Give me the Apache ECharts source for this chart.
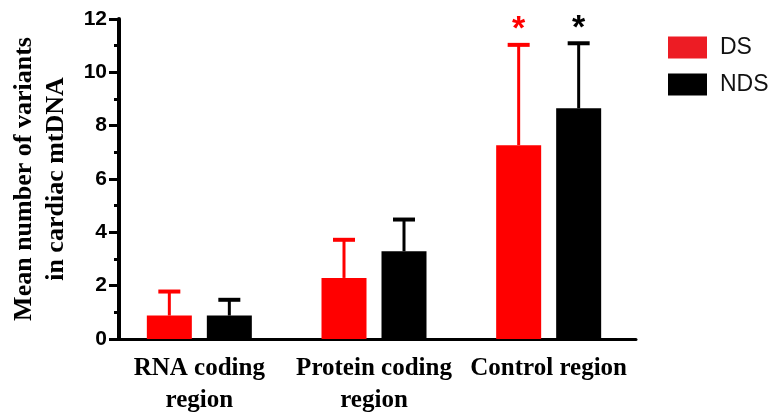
<!DOCTYPE html>
<html><head><meta charset="utf-8">
<script src="https://cdn.jsdelivr.net/npm/echarts@6/dist/echarts.min.js"></script>
<style>html,body{margin:0;padding:0;background:#fff}#c{width:776px;height:420px}</style>
</head><body><div id="c"></div>
<script>
const categories = ['RNA coding\nregion', 'Protein coding\nregion', 'Control region'];
const dsMean = [0.88, 2.29, 7.27];
const dsErr = [0.90, 1.43, 3.76];
const ndsMean = [0.88, 3.29, 8.65];
const ndsErr = [0.59, 1.19, 2.44];
const dsSig = ['', '', '*'];
const ndsSig = ['', '', '*'];
const yTicks = [0, 2, 4, 6, 8, 10, 12];

const chart = echarts.init(document.getElementById('c'));
const BW = 45, GAP = 15;
function errSeries(name, means, errs, sig, color, dir) {
  return {
    type: 'custom', name: name + ' err', z: 5,
    data: means.map((m, i) => [i, m, m + errs[i], sig[i]]),
    renderItem: function (params, api) {
      const i = api.value(0);
      const base = api.coord([i, api.value(1)]);
      const top = api.coord([i, api.value(2)]);
      const x = base[0] + dir * (BW + GAP) / 2;
      const children = [
        { type: 'line', shape: { x1: x, y1: base[1], x2: x, y2: top[1] }, style: { stroke: color, lineWidth: 3 } },
        { type: 'line', shape: { x1: x - 11, y1: top[1], x2: x + 11, y2: top[1] }, style: { stroke: color, lineWidth: 4 } }
      ];
      const s = api.value(3);
      if (s) children.push({ type: 'text', style: { text: s, x: x, y: top[1] + 2, align: 'center', verticalAlign: 'bottom', fill: color, font: 'bold 34px "Liberation Sans", Arial' } });
      return { type: 'group', children: children };
    }
  };
}
chart.setOption({
  animation: false,
  grid: { left: 112, right: 140, top: 19, bottom: 81, outerBoundsMode: 'none', containLabel: false },
  legend: {
    left: 663, top: 31, orient: 'vertical', itemWidth: 39, itemHeight: 22, itemGap: 14,
    icon: 'rect',
    textStyle: { fontFamily: '"Liberation Sans", Arial', fontSize: 23, color: '#111', padding: [0, 0, 0, 8] },
    data: [{ name: 'DS', itemStyle: { color: '#ED1C24' } }, { name: 'NDS', itemStyle: { color: '#000' } }]
  },
  xAxis: {
    type: 'category', data: categories,
    axisLine: { lineStyle: { color: '#000', width: 3 } },
    axisTick: { alignWithLabel: true, length: 8, lineStyle: { width: 3, color: '#000' } },
    axisLabel: { margin: 14, fontFamily: '"Liberation Serif", "Times New Roman", serif', fontWeight: 'bold', fontSize: 25, color: '#000', lineHeight: 32, interval: 0 }
  },
  yAxis: {
    type: 'value', min: 0, max: 12, interval: 2, offset: -7,
    name: 'Mean number of variants\nin cardiac mtDNA', nameLocation: 'middle', nameGap: 43,
    nameTextStyle: { fontFamily: '"Liberation Serif", "Times New Roman", serif', fontWeight: 'bold', fontSize: 26, color: '#000', lineHeight: 32 },
    axisLine: { show: true, lineStyle: { color: '#000', width: 4 } },
    axisTick: { show: true, length: 10, lineStyle: { width: 3, color: '#000' } },
    minorTick: { show: true, splitNumber: 2, length: 5, lineStyle: { width: 3, color: '#000' } },
    splitLine: { show: false },
    axisLabel: { margin: 12, fontFamily: '"Liberation Sans", Arial', fontWeight: 'bold', fontSize: 21, color: '#000',
      formatter: v => yTicks.includes(v) ? String(v) : '' }
  },
  series: [
    { name: 'DS', type: 'bar', data: dsMean, barWidth: BW, barGap: (GAP / BW * 100) + '%', itemStyle: { color: '#FF0000' } },
    { name: 'NDS', type: 'bar', data: ndsMean, barWidth: BW, itemStyle: { color: '#000' } },
    errSeries('DS', dsMean, dsErr, dsSig, '#FF0000', -1),
    errSeries('NDS', ndsMean, ndsErr, ndsSig, '#000', 1)
  ]
});
</script></body></html>
